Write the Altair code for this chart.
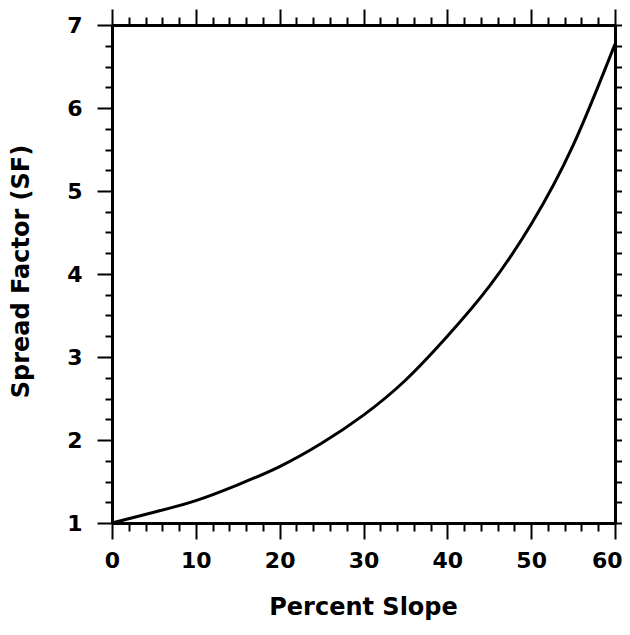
import altair as alt
import pandas as pd

# Data
slope = [0, 5, 10, 15, 20, 25, 30, 35, 40, 45, 50, 55, 60]
spread_factor = [1.00, 1.13, 1.27, 1.46, 1.68, 1.96, 2.30, 2.72, 3.25, 3.85, 4.60, 5.55, 6.77]

x_major = [0, 10, 20, 30, 40, 50, 60]
x_minor = [v for v in range(0, 61, 2) if v % 10 != 0]
y_major = [1, 2, 3, 4, 5, 6, 7]
y_minor = [1 + 0.25 * i for i in range(25) if i % 4 != 0]

df = pd.DataFrame({"slope": slope, "sf": spread_factor})

FONT = "DejaVu Sans"
xscale = alt.Scale(domain=[0, 60], nice=False, zero=False)
yscale = alt.Scale(domain=[1, 7], nice=False, zero=False)

common = dict(grid=False, tickColor="black", tickWidth=2,
              domainColor="black", domainWidth=3,
              labelFont=FONT, labelFontWeight="bold", labelColor="black",
              titleFont=FONT, titleFontWeight="bold", titleColor="black")


def ax(orient, values, size, labels=False, title=None, domain=False, **kw):
    opts = dict(common)
    opts.update(orient=orient, values=values, tickSize=size, labels=labels,
                domain=domain)
    opts.update(kw)
    opts["title"] = title
    return alt.Axis(**opts)


base = alt.Chart(df)


def layer(xaxis, yaxis, opacity):
    return base.mark_line(color="black", strokeWidth=3, opacity=opacity,
                          interpolate="natural").encode(
        x=alt.X("slope:Q", scale=xscale, axis=xaxis),
        y=alt.Y("sf:Q", scale=yscale, axis=yaxis),
    )


last_x = x_major[-1]
l1 = layer(
    ax("bottom", x_major, 16, labels=True, title="Percent Slope", domain=True,
       labelFontSize=22, labelPadding=11, titleFontSize=24,
       titleX=251, titleY=84, titleBaseline="middle", labelFlush=False,
       labelAlign={"condition": {"test": f"datum.value == {last_x}", "value": "right"},
                   "value": "center"},
       labelOffset={"condition": {"test": f"datum.value == {last_x}", "value": 7},
                    "value": 0}),
    ax("left", y_major, 15, labels=True, title="Spread Factor (SF)", domain=True,
       labelFontSize=22, labelPadding=15, titleFontSize=24,
       titleX=-91, titleY=246, titleBaseline="middle", titleAngle=-90),
    1,
)
l2 = layer(ax("bottom", x_minor, 8), ax("left", y_minor, 7), 0)
l3 = layer(ax("top", x_major, 16, domain=True), ax("right", y_major, 15, domain=True), 0)
l4 = layer(ax("top", x_minor, 8), ax("right", y_minor, 9), 0)

chart = alt.layer(l4, l3, l2, l1).resolve_axis(
    x="independent", y="independent"
).properties(
    width=503, height=498,
    autosize=alt.AutoSizeParams(type="none"),
    padding={"left": 104, "top": 17, "right": 7, "bottom": 98},
).configure_view(strokeWidth=0).configure(background="white")

chart.save("out.html", embed_options={"renderer": "svg", "actions": False})
